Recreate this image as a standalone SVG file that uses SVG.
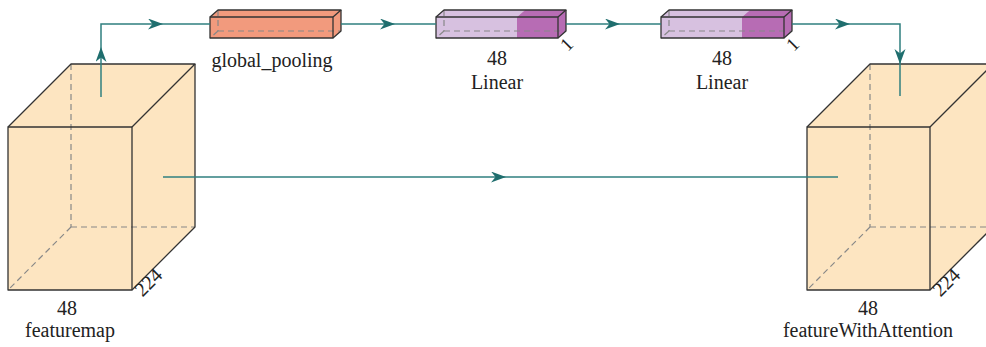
<svg xmlns="http://www.w3.org/2000/svg" width="986" height="347" viewBox="0 0 986 347">
<defs>
<style>
.face{fill:#fde5c1;stroke:none}
.edge{fill:none;stroke:#333;stroke-width:1.3;stroke-linejoin:round}
.hid{fill:none;stroke:#888;stroke-width:1.2;stroke-dasharray:6 4}
.conn{fill:none;stroke:#2f7f7f;stroke-width:1.5}
.lbl{fill:#222;text-anchor:middle}
.orange{fill:#f29a7d}
.light{fill:#d7c1e0}
.dark{fill:#b76cb4}
</style>
<marker id="arr" markerUnits="userSpaceOnUse" markerWidth="16" markerHeight="12" refX="15" refY="5.5" orient="auto">
<path d="M0,0 L15,5.5 L0,11 L4.5,5.5 Z" fill="#1f6e6e"/>
</marker>
</defs>

<g font-family="'Liberation Serif', 'DejaVu Serif', serif" font-size="20">
<g id="featuremap">
<polygon class="face" points="8,127 71,64 195,64 195,227 132,290 8,290"/>
<line class="hid" x1="71" y1="64" x2="71" y2="227"/>
<line class="hid" x1="71" y1="227" x2="195" y2="227"/>
<line class="hid" x1="71" y1="227" x2="8" y2="290"/>
<rect class="edge" x="8" y="127" width="124" height="163"/>
<polyline class="edge" points="8,127 71,64 195,64 132,127"/>
<polyline class="edge" points="195,64 195,227 132,290"/>
<text class="lbl" font-size="20" transform="translate(153,287) rotate(-45)">224</text>
<text class="lbl" x="67" y="315">48</text>
<text class="lbl" x="70" y="337">featuremap</text>
</g>

<g id="featureWithAttention">
<polygon class="face" points="807,127 870,64 993,64 993,227 930,290 807,290"/>
<line class="hid" x1="870" y1="64" x2="870" y2="227"/>
<line class="hid" x1="870" y1="227" x2="993" y2="227"/>
<line class="hid" x1="870" y1="227" x2="807" y2="290"/>
<rect class="edge" x="807" y="127" width="123" height="163"/>
<polyline class="edge" points="807,127 870,64 993,64 930,127"/>
<polyline class="edge" points="993,227 930,290"/>
<text class="lbl" font-size="20" transform="translate(951,287) rotate(-45)">224</text>
<text class="lbl" x="868" y="315">48</text>
<text class="lbl" x="868" y="337">featureWithAttention</text>
</g>

<g id="global_pooling">
<polygon class="orange" points="210,17 218,10 341,10 341,31 333,38 210,38"/>
<line class="hid" x1="218" y1="10" x2="218" y2="31"/>
<line class="hid" x1="218" y1="31" x2="341" y2="31"/>
<line class="hid" x1="218" y1="31" x2="210" y2="38"/>
<rect class="edge" x="210" y="17" width="123" height="21"/>
<polyline class="edge" points="210,17 218,10 341,10 333,17"/>
<polyline class="edge" points="341,10 341,31 333,38"/>
<text class="lbl" x="272" y="67">global_pooling</text>
</g>

<g id="linear1">
<polygon class="light" points="436,17 444,10 525,10 517,17 517,38 436,38"/>
<polygon class="dark" points="517,17 525,10 566,10 566,31 558,38 517,38"/>
<line class="hid" x1="444" y1="10" x2="444" y2="31"/>
<line class="hid" x1="444" y1="31" x2="566" y2="31"/>
<line class="hid" x1="444" y1="31" x2="436" y2="38"/>
<rect class="edge" x="436" y="17" width="122" height="21"/>
<polyline class="edge" points="436,17 444,10 566,10 558,17"/>
<polyline class="edge" points="566,10 566,31 558,38"/>
<text class="lbl" font-size="19" transform="translate(571,49) rotate(-45)">1</text>
<text class="lbl" x="497" y="65">48</text>
<text class="lbl" x="497" y="89">Linear</text>
</g>

<g id="linear2">
<polygon class="light" points="661,17 669,10 750,10 742,17 742,38 661,38"/>
<polygon class="dark" points="742,17 750,10 792,10 792,31 784,38 742,38"/>
<line class="hid" x1="669" y1="10" x2="669" y2="31"/>
<line class="hid" x1="669" y1="31" x2="792" y2="31"/>
<line class="hid" x1="669" y1="31" x2="661" y2="38"/>
<rect class="edge" x="661" y="17" width="123" height="21"/>
<polyline class="edge" points="661,17 669,10 792,10 784,17"/>
<polyline class="edge" points="792,10 792,31 784,38"/>
<text class="lbl" font-size="19" transform="translate(797,49) rotate(-45)">1</text>
<text class="lbl" x="722" y="65">48</text>
<text class="lbl" x="722" y="89">Linear</text>
</g>
</g>

<g id="connectors">
<path class="conn" d="M101,97 L101,47" marker-end="url(#arr)"/>
<path class="conn" d="M101,47 L101,24 L163,24" marker-end="url(#arr)"/>
<path class="conn" d="M163,24 L210,24"/>
<path class="conn" d="M341,24 L395,24" marker-end="url(#arr)"/>
<path class="conn" d="M395,24 L436,24"/>
<path class="conn" d="M566,24 L620,24" marker-end="url(#arr)"/>
<path class="conn" d="M620,24 L661,24"/>
<path class="conn" d="M792,24 L850,24" marker-end="url(#arr)"/>
<path class="conn" d="M850,24 L900,24 L900,64" marker-end="url(#arr)"/>
<path class="conn" d="M900,64 L900,96"/>
<path class="conn" d="M163,177 L506,177" marker-end="url(#arr)"/>
<path class="conn" d="M506,177 L838,177"/>
</g>
</svg>
